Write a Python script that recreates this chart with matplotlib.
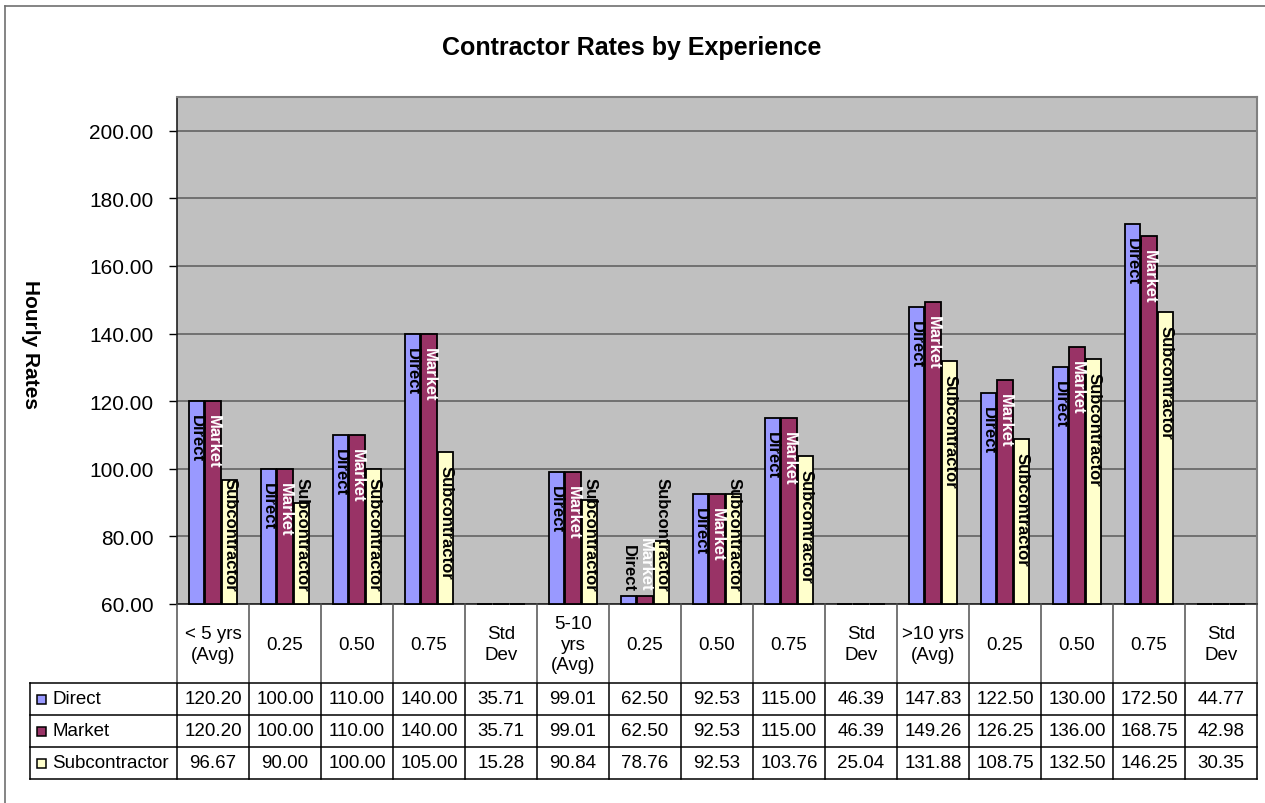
import matplotlib.pyplot as plt
import numpy as np
from matplotlib.lines import Line2D
from matplotlib.patches import Rectangle

plt.rcParams['font.family'] = ['Liberation Sans', 'DejaVu Sans']

categories = ["< 5 yrs\n(Avg)", "0.25", "0.50", "0.75", "Std\nDev",
              "5-10\nyrs\n(Avg)", "0.25", "0.50", "0.75", "Std\nDev",
              ">10 yrs\n(Avg)", "0.25", "0.50", "0.75", "Std\nDev"]
direct = [120.20, 100.00, 110.00, 140.00, 35.71, 99.01, 62.50, 92.53, 115.00, 46.39,
          147.83, 122.50, 130.00, 172.50, 44.77]
market = [120.20, 100.00, 110.00, 140.00, 35.71, 99.01, 62.50, 92.53, 115.00, 46.39,
          149.26, 126.25, 136.00, 168.75, 42.98]
subcontractor = [96.67, 90.00, 100.00, 105.00, 15.28, 90.84, 78.76, 92.53, 103.76, 25.04,
                 131.88, 108.75, 132.50, 146.25, 30.35]
series_names = ["Direct", "Market", "Subcontractor"]
colors = ["#9999FF", "#993366", "#FFFFCC"]
label_colors = ["black", "white", "black"]

Y_MIN, Y_MAX = 60, 210
W, H = 1265, 804

fig = plt.figure(figsize=(W / 100, H / 100), dpi=100)

def fx(px):
    return px / W

def fy(py):
    return 1 - py / H

# outer chart border (left and top only visible)
fig.add_artist(Line2D([fx(5), fx(5)], [fy(7), 0], color="#707070", lw=1.2))
fig.add_artist(Line2D([fx(5), 1], [fy(7), fy(7)], color="#707070", lw=1.2))

ax = fig.add_axes([fx(177), fy(605), fx(1257) - fx(177), fy(98) - fy(605)])
ax.set_facecolor("#C0C0C0")
ax.set_xlim(-0.5, len(categories) - 0.5)
ax.set_ylim(Y_MIN, Y_MAX)
ax.set_yticks(np.arange(60, 201, 20))
ax.set_yticklabels([f"{v:.2f}" for v in np.arange(60, 201, 20)], fontsize=15)
ax.tick_params(axis='y', length=6, width=1, pad=11, direction='out')
ax.set_xticks(np.arange(-0.5, len(categories), 1))
ax.set_xticklabels([])
ax.tick_params(axis='x', length=0)
ax.grid(axis='y', color="#707070", lw=1.4)
ax.set_axisbelow(True)
for s in ["top", "right"]:
    ax.spines[s].set_color("#808080")
    ax.spines[s].set_linewidth(1.5)
for s in ["left", "bottom"]:
    ax.spines[s].set_color("#202020")
    ax.spines[s].set_linewidth(1.2)

x = np.arange(len(categories))
offsets = [-0.232, 0, 0.232]
width = 0.215
all_series = [direct, market, subcontractor]
anns = []
for k, vals in enumerate(all_series):
    heights = [max(v - Y_MIN, 0) for v in vals]
    ax.bar(x + offsets[k], heights, width, bottom=Y_MIN, color=colors[k],
           edgecolor="black", linewidth=1.3, zorder=3, clip_on=False)
    for i, v in enumerate(vals):
        if v <= Y_MIN:
            continue
        a = ax.annotate(series_names[k], xy=(x[i] + offsets[k], v), xytext=(0, -13),
                        textcoords='offset pixels', rotation=270, ha='center', va='top',
                        fontsize=12, fontweight='bold', color=label_colors[k], zorder=4)
        anns.append(a)

fig.text(fx(632), fy(48), "Contractor Rates by Experience", ha='center', va='center',
         fontsize=18, fontweight='bold')
fig.text(fx(30), fy(345), "Hourly Rates", rotation=270, ha='center', va='center',
         fontsize=15, fontweight='bold')

# keep labels above the bottom of the plot area, like Excel does
fig.canvas.draw()
r = fig.canvas.get_renderer()
floor = ax.transData.transform((0, Y_MIN))[1] + 13
for a in anns:
    bb = a.get_window_extent(r)
    if bb.y0 < floor:
        a.xyann = (0, -13 + (floor - bb.y0))

# data table below the plot
left_units = 147 / 72.0
tax = fig.add_axes([fx(30), fy(780), fx(1257) - fx(30), fy(605) - fy(780)])
tax.set_xlim(-0.5 - left_units, len(categories) - 0.5)
tax.set_ylim(175, 0)
tax.axis('off')

row_y = [79, 111, 143, 175]
xl = -0.5 - left_units
xr = len(categories) - 0.5
for yy in row_y:
    tax.plot([xl, xr], [yy, yy], color="black", lw=1.1, clip_on=False)
tax.plot([xl, xl], [79, 175], color="black", lw=1.1, clip_on=False)
for b in np.arange(-0.5, len(categories), 1):
    tax.plot([b, b], [0, 79], color="#505050", lw=1.1, clip_on=False)
    tax.plot([b, b], [79, 175], color="black", lw=1.1, clip_on=False)

for i, c in enumerate(categories):
    tax.text(i, 40, c, ha='center', va='center', fontsize=13.5, linespacing=1.25)

for k, vals in enumerate(all_series):
    yc = (row_y[k] + row_y[k + 1]) / 2
    for i, v in enumerate(vals):
        tax.text(i, yc, f"{v:.2f}", ha='center', va='center', fontsize=13.5)
    tax.add_patch(Rectangle((xl + 7 / 72, yc - 4.5), 9 / 72, 9, facecolor=colors[k],
                            edgecolor="black", lw=1.1, clip_on=False))
    tax.text(xl + 22 / 72, yc, series_names[k], ha='left', va='center', fontsize=13.5)

fig.savefig("out.png", dpi=100)
